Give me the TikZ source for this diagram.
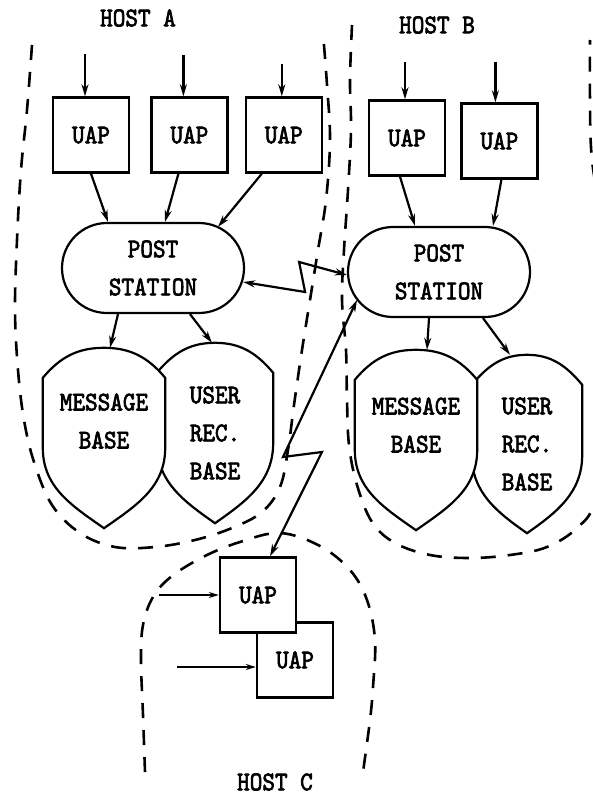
\documentclass[tikz,border=0pt]{standalone}
\usepackage{fontspec}
\usepackage{tikz}
\usetikzlibrary{positioning,arrows.meta}
\pgfdeclarelayer{background}
\pgfsetlayers{background,main}

\newfontfamily\typefont{lmmono10-regular.otf}[FakeBold=2.5,FakeStretch=0.89]

% outline of a data base, drawn round the node #1
\newcommand{\dboutline}[1]{%
	\draw[dbline] ([yshift=-30pt]#1.north west) to[out=50,in=180] (#1.north)
		to[out=0,in=130] ([yshift=-30pt]#1.north east) -- ([yshift=-100pt]#1.north east)
		to[out=-90,in=35] (#1.south) to[out=145,in=-90] ([yshift=-100pt]#1.north west) -- cycle;}

\begin{document}
\begin{tikzpicture}[x=1pt,y=-1pt,>={Stealth[length=12pt,width=7pt]},
	every node/.style={font=\typefont\fontsize{27}{38}\selectfont},
	uap/.style={draw,fill=white,line width=2.4pt,minimum width=76pt,minimum height=75pt},
	post/.style={draw,line width=2.2pt,rounded corners=45pt,minimum width=182pt,minimum height=90pt,align=center},
	dbase/.style={minimum width=122pt,minimum height=180pt,align=center},
	dbline/.style={line width=2.2pt,fill=white},
	link/.style={->,line width=2.2pt},
	input/.style={->,line width=1.6pt,>={Stealth[length=10pt,width=6pt]}},
	host/.style={line width=2.6pt,dash pattern=on 15pt off 12pt},]
		\path[use as bounding box] (0,0) rectangle (592,797);
		
		% create the nodes
		\node (hosta) at (138,18) {HOST A};
		\node (hostb) at (437,25) {HOST B};
		\node (hostc) at (275,782) {HOST C};
		
		\node (uapa1) [uap] at (91,135) {UAP};
		\node (uapa2) [uap,right=20pt of uapa1] {UAP};
		\node (uapa3) [uap,right=16pt of uapa2] {UAP};
		\node (uapb1) [uap] at (407,138) {UAP};
		\node (uapb2) [uap,right=14pt of uapb1,yshift=-3pt] {UAP};
		
		\node (posta) [post] at (153,268) {POST\\STATION};
		\node (postb) [post] at (439,272) {POST\\STATION};
		
		\node (mba) [dbase,text depth=34pt] at (104,438) {MESSAGE\\BASE};
		\node (ura) [dbase,minimum width=116pt,align=left] at (215,433) {USER\\REC.\\BASE};
		\node (mbb) [dbase,text depth=30pt] at (416,440) {MESSAGE\\BASE};
		\node (urb) [dbase,minimum width=110pt,minimum height=178pt,align=left] at (527,444) {USER\\REC.\\BASE};
		
		\node (uapc2) [uap] at (295,660) {UAP};
		\node (uapc1) [uap] at (258,595) {UAP};
		
		\begin{pgfonlayer}{background}
			\fill[white] (0,0) rectangle (592,797);
			\dboutline{ura}
			\dboutline{mba}
			\dboutline{urb}
			\dboutline{mbb}
		\end{pgfonlayer}
		
		% free ends of the inputs
		\coordinate (ina1) at ([xshift=-6pt,yshift=42pt]uapa1.north);
		\coordinate (ina2) at ([xshift=-6pt,yshift=41pt]uapa2.north);
		\coordinate (ina3) at ([xshift=-2pt,yshift=32pt]uapa3.north);
		\coordinate (inb1) at ([xshift=-2pt,yshift=37pt]uapb1.north);
		\coordinate (inb2) at ([xshift=-4pt,yshift=40pt]uapb2.north);
		\coordinate (inc1) at ([xshift=-60pt]uapc1.west);
		\coordinate (inc2) at ([xshift=-79pt,yshift=-7pt]uapc2.west);
		
		% connect the nodes
		\draw[link] (ina1) -- (ina1 |- uapa1.north);
		\draw[link] (ina2) -- (ina2 |- uapa2.north);
		\draw[link] (ina3) -- (ina3 |- uapa3.north);
		\draw[link] (inb1) -- (inb1 |- uapb1.north);
		\draw[link] (inb2) -- (inb2 |- uapb2.north);
		\draw[input] (inc1) -- (uapc1.west);
		\draw[input] (inc2) -- (inc2 -| uapc2.west);
		
		\draw[link] (uapa1.south) -- ([xshift=-45pt]posta.north);
		\draw[link] ([xshift=-11pt]uapa2.south) -- ([xshift=12pt]posta.north);
		\draw[link] ([xshift=-22pt]uapa3.south) -- ([xshift=65pt,yshift=-5pt]posta.north);
		\draw[link] ([xshift=-7pt]uapb1.south) -- ([xshift=-24pt]postb.north);
		\draw[link] ([xshift=2pt]uapb2.south) -- ([xshift=54pt]postb.north);
		
		\draw[link] ([xshift=-35pt]posta.south) -- ([xshift=6pt]mba.north);
		\draw[link] ([xshift=37pt]posta.south) -- ([xshift=-3pt]ura.north);
		\draw[link] ([xshift=-10pt]postb.south) -- ([xshift=11pt]mbb.north);
		\draw[link] ([xshift=44pt]postb.south) -- ([xshift=-17pt]urb.north);
		
		% the two lines between the hosts
		\draw[<->,line width=2.2pt] ([shift={(-2,14)}]posta.east) -- ++(62,10) -- ++(-6,-30) -- ([yshift=-3pt]postb.west);
		\draw[<->,line width=2.2pt] ([shift={(-82,28)}]postb.center) -- ++(-74,157) -- ++(39,-5) -- ([xshift=12pt]uapc1.north);
		
		% the hosts
		\draw[host] plot[smooth,tension=0.6] coordinates {(32,45) (27,110) (21,170) (17,240) (15,310) (18,370) (24,420) (34,462) (52,505) (80,533) (115,547) (155,547) (195,540) (232,528) (262,512) (280,487) (288,450) (294,405) (302,350) (310,300) (318,250) (326,200) (330,140) (327,85) (323,33)};
		\draw[host] plot[smooth,tension=0.6] coordinates {(352,25) (350,80) (351,130) (348,190) (344,250) (342,300) (346,350) (347,400) (349,445) (357,485) (372,522) (395,543) (430,555) (470,558) (510,555) (547,547) (577,528) (595,500) (604,420) (604,250) (592,160) (590,100) (590,40)};
		\draw[host] plot[smooth,tension=0.6] coordinates {(145,772) (143,715) (141,660) (143,625) (153,597) (172,576) (205,556) (240,542) (280,533) (320,546) (350,570) (367,600) (375,640) (373,687) (370,720) (363,772)};
		
	\end{tikzpicture}
\end{document}
